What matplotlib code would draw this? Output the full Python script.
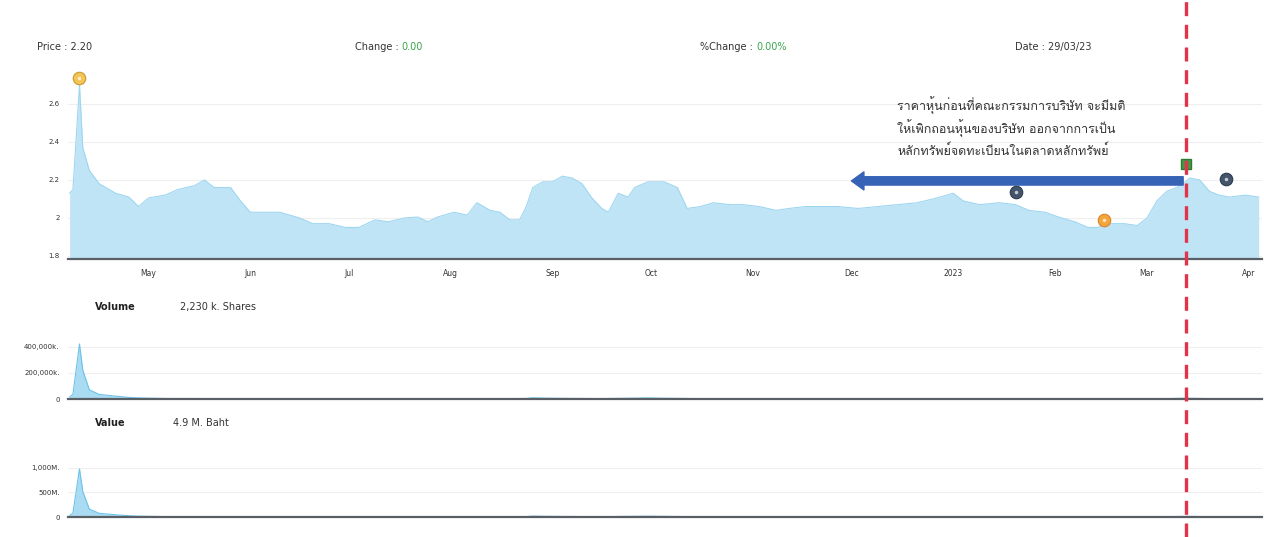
import matplotlib
matplotlib.use("Agg")
import matplotlib.pyplot as plt
import pandas as pd
from matplotlib import font_manager
from matplotlib.lines import Line2D

# ---------------- data ----------------
price_dates = [
    "2022-04-07", "2022-04-08", "2022-04-10", "2022-04-11", "2022-04-13", "2022-04-16",
    "2022-04-21", "2022-04-25", "2022-04-28", "2022-05-01", "2022-05-06", "2022-05-10",
    "2022-05-15", "2022-05-18", "2022-05-21", "2022-05-26", "2022-05-29", "2022-06-01",
    "2022-06-05", "2022-06-10", "2022-06-16", "2022-06-20", "2022-06-25", "2022-06-30",
    "2022-07-04", "2022-07-09", "2022-07-13", "2022-07-18", "2022-07-22", "2022-07-25",
    "2022-07-28", "2022-08-02", "2022-08-06", "2022-08-09", "2022-08-13", "2022-08-16",
    "2022-08-19", "2022-08-22", "2022-08-24", "2022-08-26", "2022-08-29", "2022-09-01",
    "2022-09-04", "2022-09-07", "2022-09-10", "2022-09-13", "2022-09-16", "2022-09-18",
    "2022-09-21", "2022-09-24", "2022-09-26", "2022-09-30", "2022-10-05", "2022-10-09",
    "2022-10-12", "2022-10-16", "2022-10-20", "2022-10-25", "2022-10-29", "2022-11-03",
    "2022-11-08", "2022-11-12", "2022-11-17", "2022-11-21", "2022-11-27", "2022-12-03",
    "2022-12-09", "2022-12-15", "2022-12-21", "2022-12-27", "2023-01-01", "2023-01-04",
    "2023-01-09", "2023-01-15", "2023-01-20", "2023-01-24", "2023-01-29", "2023-02-02",
    "2023-02-07", "2023-02-11", "2023-02-14", "2023-02-17", "2023-02-22", "2023-02-26",
    "2023-03-01", "2023-03-04", "2023-03-07", "2023-03-10", "2023-03-12", "2023-03-14",
    "2023-03-17", "2023-03-20", "2023-03-23", "2023-03-26", "2023-03-31", "2023-04-04",
]
prices = [
    2.13, 2.15, 2.70, 2.37, 2.25, 2.18,
    2.13, 2.11, 2.06, 2.105, 2.12, 2.15,
    2.17, 2.20, 2.16, 2.16, 2.09, 2.03,
    2.03, 2.03, 2.00, 1.97, 1.97, 1.95,
    1.95, 1.99, 1.98, 2.00, 2.005, 1.98,
    2.005, 2.03, 2.015, 2.08, 2.04, 2.03,
    1.99, 1.99, 2.06, 2.16, 2.19, 2.19,
    2.22, 2.21, 2.18, 2.105, 2.05, 2.03,
    2.13, 2.11, 2.16, 2.19, 2.19, 2.16,
    2.05, 2.06, 2.08, 2.07, 2.07, 2.06,
    2.04, 2.05, 2.06, 2.06, 2.06, 2.05,
    2.06, 2.07, 2.08, 2.105, 2.13, 2.09,
    2.07, 2.08, 2.07, 2.04, 2.03, 2.005,
    1.98, 1.95, 1.95, 1.97, 1.97, 1.96,
    2.00, 2.09, 2.14, 2.16, 2.18, 2.21,
    2.20, 2.14, 2.12, 2.11, 2.12, 2.11,
]

flow_dates = [
    "2022-04-07", "2022-04-08", "2022-04-10", "2022-04-11", "2022-04-13", "2022-04-16",
    "2022-04-21", "2022-04-25", "2022-04-28", "2022-05-06", "2022-05-26", "2022-06-20",
    "2022-07-22", "2022-08-16", "2022-08-24", "2022-08-26", "2022-08-29", "2022-09-04",
    "2022-09-16", "2022-09-24", "2022-09-30", "2022-10-05", "2022-10-16", "2022-11-17",
    "2022-12-21", "2023-01-20", "2023-02-14", "2023-03-07", "2023-03-13", "2023-03-20",
    "2023-04-04",
]
volume_k = [
    15000, 35000, 420000, 220000, 70000, 35000,
    22000, 12000, 8000, 4000, 3000, 1500,
    1500, 2500, 4000, 9000, 7000, 5000,
    3000, 6000, 8000, 6000, 2500, 1500,
    1500, 2000, 1500, 3000, 6000, 3000,
    2000,
]
value_m = [
    30, 80, 980, 520, 160, 75,
    45, 25, 17, 8, 6, 3,
    3, 5, 8, 19, 15, 11,
    6, 13, 17, 13, 5, 3,
    3, 4, 3, 6, 13, 6,
    4,
]

month_ticks = ["2022-05-01", "2022-06-01", "2022-07-01", "2022-08-01", "2022-09-01",
               "2022-10-01", "2022-11-01", "2022-12-01", "2023-01-01", "2023-02-01",
               "2023-03-01", "2023-04-01"]
month_labels = ["May", "Jun", "Jul", "Aug", "Sep", "Oct", "Nov", "Dec", "2023",
                "Feb", "Mar", "Apr"]

price_ticks = [1.8, 2.0, 2.2, 2.4, 2.6]
price_tick_labels = ["1.8", "2", "2.2", "2.4", "2.6"]
volume_ticks = [0, 200000, 400000]
volume_tick_labels = ["0", "200,000k.", "400,000k."]
value_ticks = [0, 500, 1000]
value_tick_labels = ["0", "500M.", "1,000M."]

# event flags on the price chart
event_dates = ["2022-04-10", "2023-01-20", "2023-02-16", "2023-03-25"]
event_prices = [2.737, 2.137, 1.989, 2.205]
event_faces = ["#f3c558", "#43546b", "#f4a53c", "#43546b"]
event_edges = ["#c99a2c", "#2c3a4d", "#d8842a", "#2c3a4d"]
flag_date = "2023-03-13"
flag_price = 2.284

marker_date = "2023-03-13"
arrow_from = ("2023-03-12", 2.195)
arrow_to = ("2022-12-01", 2.195)

note_lines = [
    "ราคาหุ้นก่อนที่คณะกรรมการบริษัท จะมีมติ",
    "ให้เพิกถอนหุ้นของบริษัท ออกจากการเป็น",
    "หลักทรัพย์จดทะเบียนในตลาดหลักทรัพย์",
]

# ---------------- fonts ----------------
def find_thai_family():
    try:
        from fontTools.ttLib import TTFont
    except Exception:
        return None
    for entry in font_manager.fontManager.ttflist:
        try:
            tt = TTFont(entry.fname, fontNumber=0, lazy=True)
            cmap = tt.getBestCmap() or {}
            if 0x0E01 in cmap and 0x0E2B in cmap and 0x0E49 in cmap:
                return entry.name
        except Exception:
            continue
    return None

thai = find_thai_family()
thai_families = ([thai] if thai else []) + ["DejaVu Sans"]
plt.rcParams["font.family"] = ["DejaVu Sans"]

# ---------------- figure ----------------
W, H = 1264, 537
fig = plt.figure(figsize=(W / 100, H / 100), dpi=100)
fig.patch.set_facecolor("white")

def px_axes(left, top, right, bottom):
    return fig.add_axes([left / W, 1 - bottom / H, (right - left) / W, (bottom - top) / H])

ax_p = px_axes(68, 80, 1262, 259)
ax_v = px_axes(68, 340, 1262, 399)
ax_a = px_axes(68, 463, 1262, 517)

x0 = pd.Timestamp("2022-04-06 12:00")
x1 = pd.Timestamp("2023-04-05")

pd_dates = pd.to_datetime(price_dates)
fd = pd.to_datetime(flow_dates)

fill_c = "#bfe4f6"
line_c = "#9ed6f1"

for ax in (ax_p, ax_v, ax_a):
    ax.set_facecolor("none")
    ax.set_xlim(x0, x1)
    for s in ("top", "right", "left"):
        ax.spines[s].set_visible(False)
    ax.spines["bottom"].set_color("#5a5f66")
    ax.spines["bottom"].set_linewidth(1.6)
    ax.yaxis.grid(True, color="#efefef", lw=0.8)
    ax.set_axisbelow(True)
    ax.tick_params(axis="y", length=0, pad=6, labelsize=5, labelcolor="#333333")
    ax.tick_params(axis="x", length=0)

# price
ax_p.fill_between(pd_dates, prices, 1.70, color=fill_c, lw=0)
ax_p.plot(pd_dates, prices, color=line_c, lw=0.8)
ax_p.set_ylim(1.784, 2.726)
ax_p.set_yticks(price_ticks)
ax_p.set_yticklabels(price_tick_labels)
ax_p.set_xticks(pd.to_datetime(month_ticks))
ax_p.set_xticklabels(month_labels, fontsize=5.5, color="#333333")
ax_p.tick_params(axis="x", pad=7)

# volume
ax_v.fill_between(fd, volume_k, 0, color="#a9dbf2", lw=0)
ax_v.plot(fd, volume_k, color="#6cc2ea", lw=0.8)
ax_v.set_ylim(0, 450000)
ax_v.set_yticks(volume_ticks)
ax_v.set_yticklabels(volume_tick_labels)
ax_v.set_xticks([])

# value
ax_a.fill_between(fd, value_m, 0, color="#a9dbf2", lw=0)
ax_a.plot(fd, value_m, color="#6cc2ea", lw=0.8)
ax_a.set_ylim(0, 1100)
ax_a.set_yticks(value_ticks)
ax_a.set_yticklabels(value_tick_labels)
ax_a.set_xticks([])

# event flags
for d, p, fc, ec in zip(event_dates, event_prices, event_faces, event_edges):
    ax_p.plot([pd.Timestamp(d)], [p], "o", ms=9, mfc=fc, mec=ec, mew=0.8,
              clip_on=False, zorder=6)
    ax_p.plot([pd.Timestamp(d)], [p], "o", ms=2.5, mfc="white", mec="none",
              alpha=0.7, clip_on=False, zorder=7)
ax_p.plot([pd.Timestamp(flag_date)], [flag_price], "s", ms=7, mfc="#3f9b45",
          mec="#2e7a33", clip_on=False, zorder=6)

# arrow
ax_p.annotate("", xy=(pd.Timestamp(arrow_to[0]), arrow_to[1]),
              xytext=(pd.Timestamp(arrow_from[0]), arrow_from[1]),
              arrowprops=dict(arrowstyle="simple,head_length=0.9,head_width=1.3,tail_width=0.6",
                              mutation_scale=10, color="#3763b6", shrinkA=0, shrinkB=0),
              zorder=5)

# note text
note_y = [2.595, 2.474, 2.353]
for line, y in zip(note_lines, note_y):
    ax_p.text(pd.Timestamp("2022-12-15"), y, line, fontsize=9, color="#333333",
              family=thai_families, va="center", ha="left", zorder=8)

# header
def pair(x_px, y_px, label, value, value_color):
    t = fig.text(x_px / W, 1 - y_px / H, label, fontsize=7, color="#333333", va="center")
    fig.canvas.draw()
    ext = t.get_window_extent()
    fig.text(ext.x1 / W, 1 - y_px / H, value, fontsize=7, color=value_color, va="center")

fig.text(37 / W, 1 - 47 / H, "Price : 2.20", fontsize=7, color="#333333", va="center")
pair(355, 47, "Change : ", "0.00", "#3aa64a")
pair(700, 47, "%Change : ", "0.00%", "#3aa64a")
fig.text(1015 / W, 1 - 47 / H, "Date : 29/03/23", fontsize=7, color="#333333", va="center")

fig.text(95 / W, 1 - 307 / H, "Volume", fontsize=7, fontweight="bold", color="#222222", va="center")
fig.text(180 / W, 1 - 307 / H, "2,230 k. Shares", fontsize=7, color="#333333", va="center")
fig.text(95 / W, 1 - 423 / H, "Value", fontsize=7, fontweight="bold", color="#222222", va="center")
fig.text(173 / W, 1 - 423 / H, "4.9 M. Baht", fontsize=7, color="#333333", va="center")

# red dashed marker line through all panels
fig.canvas.draw()
xd = ax_p.transData.transform((matplotlib.dates.date2num(pd.Timestamp(marker_date)), 2.0))[0]
fig.add_artist(Line2D([xd / W, xd / W], [0, 1], transform=fig.transFigure,
                      color="#e2334a", lw=2.4, dashes=(4.2, 2.6), zorder=10))

fig.savefig("out.png", dpi=100)
